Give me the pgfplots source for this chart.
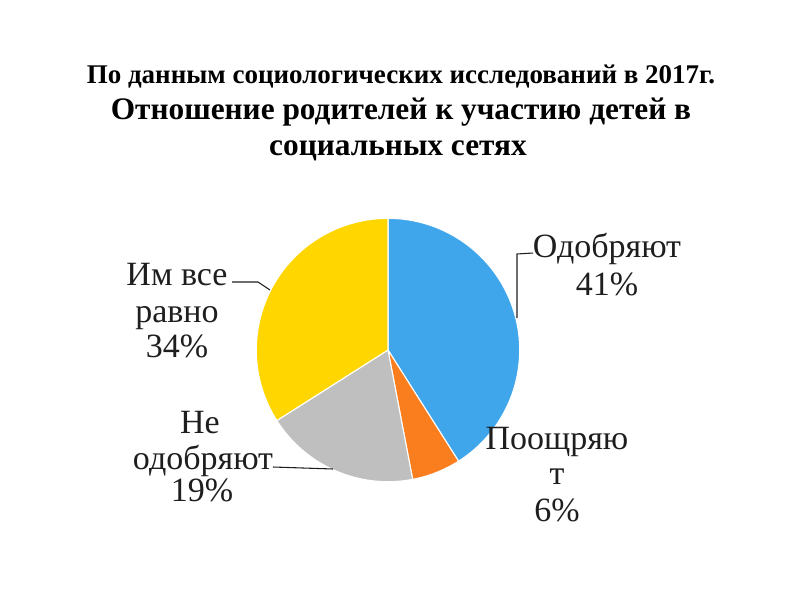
\documentclass[border=0pt]{standalone}
\usepackage{pgfplots}
\pgfplotsset{compat=1.18}
\usepgfplotslibrary{polar}
\usepackage{fontspec}
\setmainfont{Liberation Serif}
\definecolor{cblue}{RGB}{64,166,236}
\definecolor{corange}{RGB}{250,125,30}
\definecolor{cgray}{RGB}{191,191,191}
\definecolor{cyellow}{RGB}{255,214,0}
\definecolor{ctext}{RGB}{30,30,30}
\begin{document}
\begin{tikzpicture}
\path[use as bounding box] (0,0) rectangle (600pt,-450pt);
% Shares (%): Одобряют 41, Поощряют 6, Не одобряют 19, Им все равно 34
% slices start at 90 deg and run clockwise, 3.6 deg per percent
\begin{polaraxis}[at={(291pt,-262.5pt)}, anchor=center, hide axis,
  scale only axis, width=197.5pt, height=197.5pt,
  xmin=0, xmax=360, ymin=0, ymax=1, clip=false]
\addplot[fill=cblue, draw=white, line width=0.8pt, domain=-57.6:90, samples=120] {1} -- (axis cs:0,0) -- cycle;
\addplot[fill=corange, draw=white, line width=0.8pt, domain=-79.2:-57.6, samples=30] {1} -- (axis cs:0,0) -- cycle;
\addplot[fill=cgray, draw=white, line width=0.8pt, domain=-147.6:-79.2, samples=60] {1} -- (axis cs:0,0) -- cycle;
\addplot[fill=cyellow, draw=white, line width=0.8pt, domain=-270:-147.6, samples=100] {1} -- (axis cs:0,0) -- cycle;
\end{polaraxis}
\begin{scope}[x=0.75pt,y=-0.75pt]
% title
\node[anchor=base, font=\bfseries\fontsize{20.25pt}{24pt}\selectfont] at (401,83) {По данным социологических исследований в 2017г.};
\node[anchor=base, font=\bfseries\fontsize{23.5pt}{26pt}\selectfont] at (401,119) {Отношение родителей к участию детей в};
\node[anchor=base, font=\bfseries\fontsize{23.5pt}{26pt}\selectfont] at (398,155) {социальных сетях};
% leader lines
\draw[ctext, line width=0.8pt] (533,253) -- (517,254) -- (517,318);
\draw[ctext, line width=0.8pt] (232,282) -- (258,282) -- (270,290);
\draw[ctext, line width=0.8pt] (273,467) -- (333,469);
% labels
\begin{scope}[every node/.style={anchor=base, text=ctext, font=\fontsize{25.5pt}{27pt}\selectfont, inner sep=0pt}]
\node at (607,257) {Одобряют};
\node at (607,295) {41\%};
\node at (177,285) {Им все};
\node at (177,322) {равно};
\node at (177,357) {34\%};
\node at (200,433) {Не};
\node at (203,469) {одобряют};
\node at (202,501) {19\%};
\node at (557,449) {Поощряю};
\node at (557,484) {т};
\node at (557,521) {6\%};
\end{scope}
\end{scope}
\end{tikzpicture}
\end{document}
